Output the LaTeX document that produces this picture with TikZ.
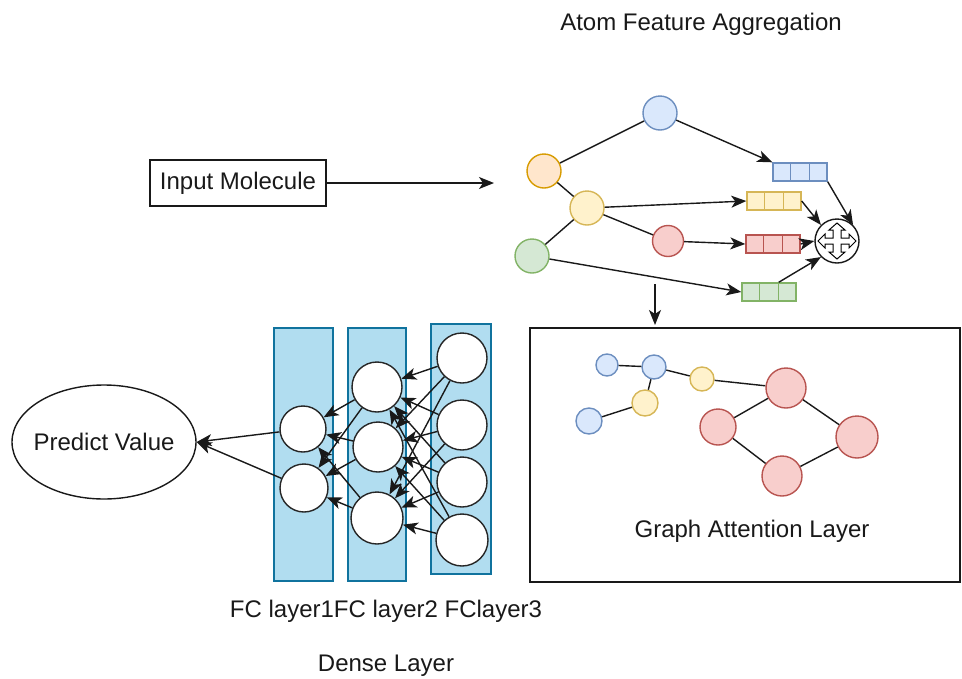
\documentclass[tikz,border=0pt]{standalone}
\usepackage{fontspec}
\setmainfont{Liberation Sans}
\usetikzlibrary{arrows.meta,shapes.geometric}

\definecolor{bluefill}{HTML}{DAE8FC}\definecolor{bluedraw}{HTML}{6C8EBF}
\definecolor{orangefill}{HTML}{FFE6CC}\definecolor{orangedraw}{HTML}{D79B00}
\definecolor{yellowfill}{HTML}{FFF2CC}\definecolor{yellowdraw}{HTML}{D6B656}
\definecolor{greenfill}{HTML}{D5E8D4}\definecolor{greendraw}{HTML}{82B366}
\definecolor{redfill}{HTML}{F8CECC}\definecolor{reddraw}{HTML}{B85450}
\definecolor{layerfill}{HTML}{B1DDF0}\definecolor{layerdraw}{HTML}{10739E}

\tikzset{
  every node/.style={font=\fontsize{24}{28}\selectfont, text=black!90},
  atom/.style={circle, draw=#1draw, fill=#1fill, line width=1.4pt, inner sep=0pt},
  neuron/.style={circle, draw=black!85, fill=white, line width=1.4pt, inner sep=0pt, minimum size=48pt},
  layerbox/.style={draw=layerdraw, fill=layerfill, line width=1.4pt},
  featbar/.style={rectangle, draw=#1draw, fill=#1fill, line width=1.4pt, minimum width=54pt, minimum height=18pt, inner sep=0pt},
  arr/.style={-{Stealth[length=15pt,width=12pt,inset=4pt]}, line width=1.4pt, draw=black!90},
  bond/.style={line width=1.4pt, draw=black!90},
  framebox/.style={draw=black!90, line width=1.4pt}
}

% three-cell feature vector: name, colour, centre
\newcommand{\cellrow}[3]{%
  \node[featbar=#2] (#1) at (#3) {};
  \draw[#2draw, line width=1.4pt] ([xshift=18pt]#1.north west) -- ([xshift=18pt]#1.south west)
        ([xshift=-18pt]#1.north east) -- ([xshift=-18pt]#1.south east);
}

\begin{document}
\begin{tikzpicture}[x=1pt,y=-1pt]
\useasboundingbox (0,0) rectangle (962,678);

% ---------- titles ----------
\node (ttl) at (701,24) {Atom Feature Aggregation};
\node[framebox, minimum width=176pt, minimum height=46pt, inner sep=0pt] (inp) at (238,183) {Input Molecule};
\coordinate (molin) at (494,183);
\draw[arr] (inp) -- (molin);

% ---------- molecule graph ----------
\node[atom=blue,   minimum size=34pt] (a1) at (660,113) {};
\node[atom=orange, minimum size=34pt] (a2) at (544,171) {};
\node[atom=yellow, minimum size=34pt] (a3) at (587,208) {};
\node[atom=green,  minimum size=34pt] (a4) at (532,256) {};
\node[atom=red,    minimum size=31pt] (a5) at (668,241) {};

\draw[bond] (a2) -- (a1);
\draw[bond] (a2) -- (a3);
\draw[bond] (a3) -- (a4);
\draw[bond] (a3) -- (a5);

\cellrow{fb}{blue}{800,172}
\cellrow{fy}{yellow}{774,201}
\cellrow{fr}{red}{773,244}
\cellrow{fg}{green}{769,292}

\draw[arr] (a1) -- (fb.north west);
\draw[arr] (a3) -- (fy.west);
\draw[arr] (a5) -- (fr.west);
\draw[arr] (a4) -- (fg.west);

% aggregation operator
\node[circle, draw=black!90, fill=white, line width=1.4pt, minimum size=44pt, inner sep=0pt] (agg) at (837,241) {};
\draw[line width=1pt, fill=white] (agg.center)
  ++(19,0) -- ++(-7,-7) -- ++(0,4) -- ++(-8,0) -- ++(0,-8) -- ++(4,0) -- ++(-8,-7)
  -- ++(-8,7) -- ++(4,0) -- ++(0,8) -- ++(-8,0) -- ++(0,-4) -- ++(-7,7)
  -- ++(7,7) -- ++(0,-4) -- ++(8,0) -- ++(0,8) -- ++(-4,0) -- ++(8,7)
  -- ++(8,-7) -- ++(-4,0) -- ++(0,-8) -- ++(8,0) -- ++(0,4) -- cycle;

\draw[arr] (fb.south east) -- (agg.north east);
\draw[arr] (fy.east) -- (agg.north west);
\draw[arr] (fr.east) -- (agg.west);
\draw[arr] ([xshift=-18pt]fg.north east) -- (agg.south west);

\coordinate (gstart) at (655,284);
\coordinate (gend) at (655,325);
\draw[arr] (gstart) -- (gend);

% ---------- graph attention layer ----------
\node[framebox, minimum width=430pt, minimum height=254pt, inner sep=0pt] (gat) at (745,455) {};
\node (gatlbl) at (752,531) {Graph Attention Layer};

\node[atom=blue,   minimum size=22pt] (g1) at (607,365) {};
\node[atom=blue,   minimum size=24pt] (g2) at (654,367) {};
\node[atom=yellow, minimum size=24pt] (g3) at (702,379) {};
\node[atom=yellow, minimum size=26pt] (g4) at (645,403) {};
\node[atom=blue,   minimum size=26pt] (g5) at (589,421) {};
\node[atom=red,    minimum size=40pt] (r1) at (786,388) {};
\node[atom=red,    minimum size=36pt] (r2) at (718,427) {};
\node[atom=red,    minimum size=42pt] (r3) at (857,437) {};
\node[atom=red,    minimum size=40pt] (r4) at (782,476) {};

\draw[bond] (g1) -- (g2);
\draw[bond] (g2) -- (g3);
\draw[bond] (g2) -- (g4);
\draw[bond] (g4) -- (g5);
\draw[bond] (g3) -- (r1);
\draw[bond] (r1) -- (r2);
\draw[bond] (r1) -- (r3);
\draw[bond] (r2) -- (r4);
\draw[bond] (r4) -- (r3);

% ---------- dense layers ----------
\node[layerbox, minimum width=59pt, minimum height=253pt, inner sep=0pt] (L1) at (303.5,454.5) {};
\node[layerbox, minimum width=58pt, minimum height=253pt, inner sep=0pt] (L2) at (377,454.5) {};
\node[layerbox, minimum width=60pt, minimum height=250pt, inner sep=0pt] (L3) at (461,449) {};

\node[neuron, minimum size=46pt] (n11) at (303,429) {};
\node[neuron, minimum size=48pt] (n12) at (304,488) {};
\node[neuron, minimum size=50pt] (n21) at (377,387) {};
\node[neuron, minimum size=50pt] (n22) at (378,447) {};
\node[neuron, minimum size=52pt] (n23) at (377,518) {};
\node[neuron, minimum size=50pt] (n31) at (462,358) {};
\node[neuron, minimum size=50pt] (n32) at (462,425) {};
\node[neuron, minimum size=50pt] (n33) at (462,482) {};
\node[neuron, minimum size=52pt] (n34) at (462,540) {};

\foreach \s in {n31,n32,n33,n34}
  \foreach \t in {n21,n22,n23}
    \draw[arr] (\s) -- (\t);
\foreach \s in {n21,n22,n23}
  \foreach \t in {n11,n12}
    \draw[arr] (\s) -- (\t);

\node[ellipse, draw=black!90, line width=1.4pt, minimum width=184pt, minimum height=114pt,
      inner xsep=-8pt, inner ysep=0pt] (pred) at (104,442) {Predict Value};
\draw[arr] (n11) -- (pred.east);
\draw[arr] (n12) -- (pred.east);

\node (fclbl) at (386,611) {FC layer1FC layer2 FClayer3};
\node (dense) at (386,666) {Dense Layer};
\end{tikzpicture}
\end{document}
